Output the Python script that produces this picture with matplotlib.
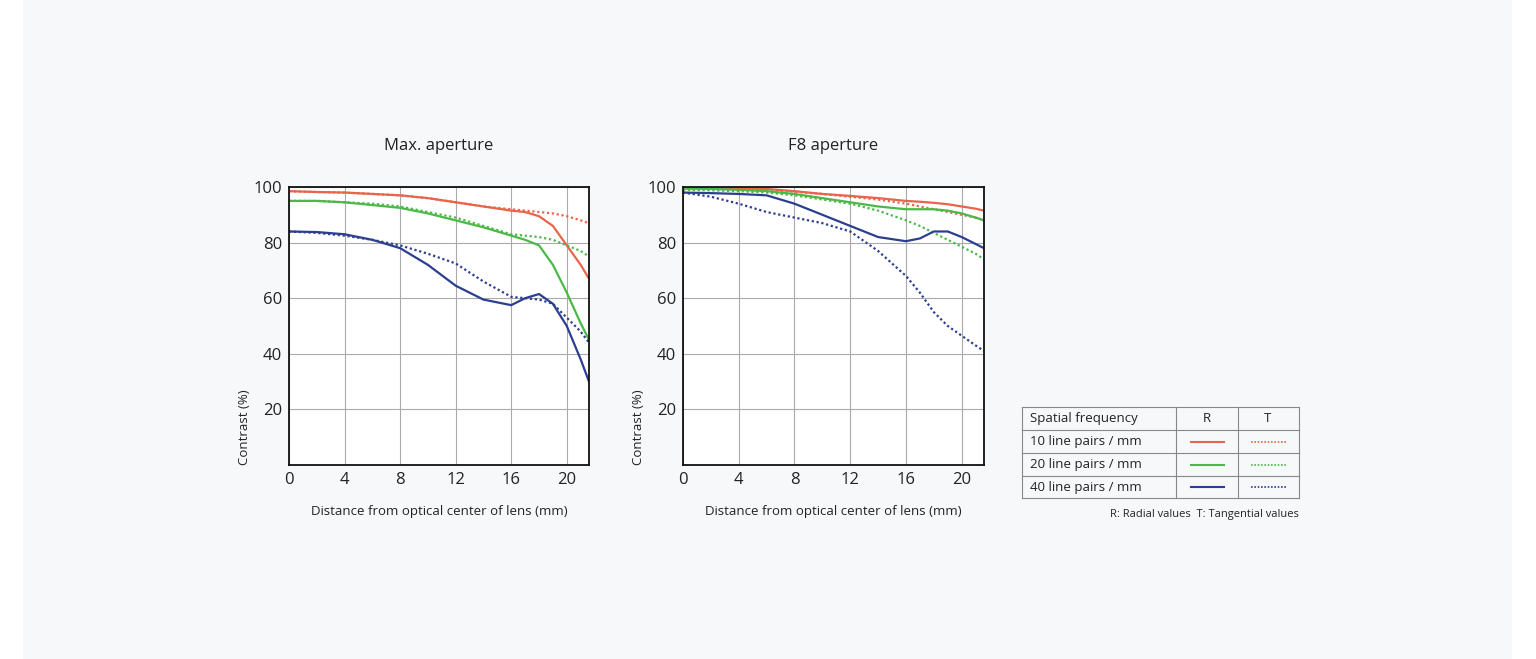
import matplotlib.pyplot as plt
from matplotlib.lines import Line2D

plt.rcParams['font.family'] = ['Open Sans', 'DejaVu Sans']

W, H = 1536, 659

x = [0, 2, 4, 6, 8, 10, 12, 14, 16, 17, 18, 19, 20, 21, 21.6]

max_r10 = [98.5, 98.2, 98, 97.5, 97, 96, 94.5, 93, 91.5, 91, 89.5, 86, 79, 72, 67]
max_t10 = [98.5, 98.2, 98, 97.5, 97, 96, 94.5, 93, 92, 91.5, 91, 90.5, 89.5, 88, 87]
max_r20 = [95, 95, 94.5, 93.5, 92.5, 90.5, 88, 85.5, 82.5, 81, 79, 72, 62, 51, 45]
max_t20 = [95, 95, 94.5, 94, 93, 91, 89, 86, 83, 82.5, 82, 81, 79, 77, 75]
max_r40 = [84, 83.8, 83, 81, 78, 72, 64.5, 59.5, 57.5, 60, 61.5, 58, 50, 38, 30]
max_t40 = [84, 83.5, 82.5, 81, 79, 76, 72.5, 66, 60.5, 60, 59.5, 58, 53, 48, 44]

f8_r10 = [99.5, 99.5, 99.5, 99.3, 98.5, 97.5, 96.8, 96, 95, 94.7, 94.3, 93.8, 93, 92.2, 91.5]
f8_t10 = [99.5, 99.5, 99.3, 99, 98.3, 97.5, 96.5, 95.5, 94, 93, 92, 91, 90, 89, 88]
f8_r20 = [99.5, 99.3, 99, 98.5, 97.5, 96, 94.5, 93, 92, 92, 92, 91.5, 90.5, 89, 88]
f8_t20 = [99, 98.8, 98.5, 98, 97, 95.5, 94, 91.5, 88, 86, 83.5, 81, 78.5, 76, 74]
f8_r40 = [98, 97.8, 97.5, 97, 94, 90, 86, 82, 80.5, 81.5, 84, 84, 82, 79.5, 78]
f8_t40 = [98, 96.5, 94, 91, 89, 87, 84, 77, 68, 62, 55, 50, 46.5, 43, 41]

freq_labels = ['10 line pairs / mm', '20 line pairs / mm', '40 line pairs / mm']
colors = ['#e8644a', '#4cb848', '#2c3e8f']
TXT = '#222222'

fig = plt.figure(figsize=(W / 100, H / 100), dpi=100)
fig.patch.set_facecolor('#ffffff')
bg = fig.add_axes([23 / W, 0, (1512 - 23) / W, 1])
bg.set_facecolor('#f7f8fa')
bg.set_xticks([]); bg.set_yticks([])
for s in bg.spines.values():
    s.set_visible(False)
bg.set_zorder(-10)


def box(x0, y0, x1, y1):
    return [x0 / W, 1 - y1 / H, (x1 - x0) / W, (y1 - y0) / H]


def panel(rect, title, series):
    ax = fig.add_axes(rect)
    ax.set_facecolor('white')
    for (r, t), c in zip(series, colors):
        ax.plot(x, r, color=c, lw=1.6, solid_joinstyle='round')
        ax.plot(x, t, color=c, lw=1.6, ls=(0, (1, 1.2)))
    ax.set_xlim(0, 21.6)
    ax.set_ylim(0, 100)
    ax.set_xticks([0, 4, 8, 12, 16, 20])
    ax.set_yticks([20, 40, 60, 80, 100])
    ax.grid(True, color='#aaaaaa', lw=0.8)
    ax.tick_params(length=0, labelsize=12, colors=TXT, pad=5)
    for s in ax.spines.values():
        s.set_color('#111111'); s.set_linewidth(1.3)
    ax.set_title(title, fontsize=12, color=TXT, pad=27)
    ax.set_xlabel('Distance from optical center of lens (mm)', fontsize=9.5,
                  color=TXT, labelpad=12)
    ax.set_ylabel('Contrast (%)', fontsize=9.5, color=TXT, loc='bottom', labelpad=2)
    return ax


panel(box(289, 187, 589, 465), 'Max. aperture',
      [(max_r10, max_t10), (max_r20, max_t20), (max_r40, max_t40)])
panel(box(683, 187, 984, 465), 'F8 aperture',
      [(f8_r10, f8_t10), (f8_r20, f8_t20), (f8_r40, f8_t40)])

# legend table in pixel coords
tb = fig.add_axes([0, 0, 1, 1])
tb.set_xlim(0, W); tb.set_ylim(H, 0); tb.axis('off')
cols = [1022, 1176, 1238, 1299]
rows = [407, 430, 453, 476, 498]
for yv in rows:
    tb.add_line(Line2D([cols[0], cols[-1]], [yv, yv], color='#888888', lw=0.8))
for xv in cols:
    tb.add_line(Line2D([xv, xv], [rows[0], rows[-1]], color='#888888', lw=0.8))
tb.text(1030, 418.5, 'Spatial frequency', fontsize=9.5, color=TXT, va='center')
tb.text(1207, 418.5, 'R', fontsize=9.5, color=TXT, va='center', ha='center')
tb.text(1268, 418.5, 'T', fontsize=9.5, color=TXT, va='center', ha='center')
for i, (lab, c) in enumerate(zip(freq_labels, colors)):
    yc = (rows[i + 1] + rows[i + 2]) / 2
    tb.text(1030, yc, lab, fontsize=9.5, color=TXT, va='center')
    tb.add_line(Line2D([1191, 1224], [yc, yc], color=c, lw=1.5))
    tb.add_line(Line2D([1251, 1286], [yc, yc], color=c, lw=1.2, ls=(0, (1, 1))))
tb.text(1299, 514, 'R: Radial values  T: Tangential values', fontsize=8,
        color=TXT, va='center', ha='right')

fig.savefig('out.png', dpi=100)
